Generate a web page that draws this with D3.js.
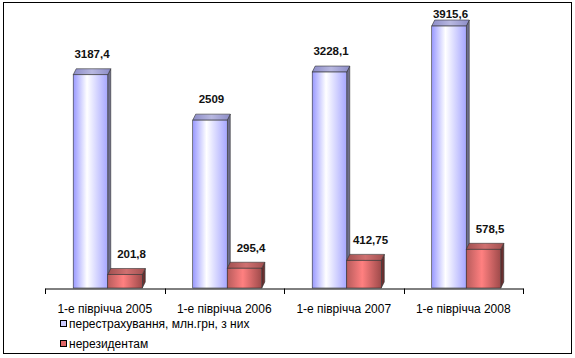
<!DOCTYPE html>
<html><head><meta charset="utf-8">
<script src="https://cdn.jsdelivr.net/npm/d3@7"></script>
<style>body{margin:0;background:#fff}svg{display:block}text{font-family:"Liberation Sans",Arial,sans-serif}</style>
</head><body>
<svg id="c" width="575" height="358"></svg>
<script>
const categories = ["1-е півріччa 2005","1-е півріччa 2006","1-е півріччa 2007","1-е півріччa 2008"];
const reinsurance = [3187.4, 2509, 3228.1, 3915.6];
const nonresidents = [201.8, 295.4, 412.75, 578.5];
const reinsLabels = ["3187,4","2509","3228,1","3915,6"];
const nonresLabels = ["201,8","295,4","412,75","578,5"];
const seriesNames = ["перестрахування, млн.грн, з них","нерезидентам"];

const svg = d3.select("#c");
const defs = svg.append("defs");
function grad(id, stops){
  const g = defs.append("linearGradient").attr("id",id).attr("x1","0").attr("x2","1").attr("y1","0").attr("y2","0");
  stops.forEach(s=>g.append("stop").attr("offset",s[0]).attr("stop-color",s[1]));
}
grad("gb",[[0,"#9999ff"],[0.4,"#ffffff"],[1,"#a6a6ff"]]);
grad("gr",[[0,"#b85c5c"],[0.45,"#ff8080"],[1,"#9e4a4a"]]);
grad("gbt",[[0,"#8c8cc8"],[0.5,"#b8b8e0"],[1,"#8c8cc8"]]);
grad("grt",[[0,"#a05050"],[0.5,"#d07070"],[1,"#a05050"]]);

svg.append("rect").attr("x",3.5).attr("y",2.5).attr("width",568).attr("height",351)
  .attr("fill","#fff").attr("stroke","#000").attr("stroke-width",1);

const x = d3.scaleBand().domain(categories).range([45,523]).paddingInner(0).paddingOuter(0);
const y = d3.scaleLinear().domain([0,4000]).range([288,20.4]);
const inner = d3.scaleBand().domain([0,1]).range([0, x.bandwidth()]).paddingOuter(0.73).paddingInner(0);
const dx = 3, dy = 6, shift = 3;

function bar(g, x0, w, v, front, top, side){
  const yt = y(v), yb = y(0);
  g.append("path").attr("d",`M${x0+w},${yb}L${x0+w+dx},${yb-dy}L${x0+w+dx},${yt-dy}L${x0+w},${yt}Z`)
    .attr("fill",side).attr("stroke","#333").attr("stroke-width",0.6);
  g.append("path").attr("d",`M${x0},${yt}L${x0+dx},${yt-dy}L${x0+w+dx},${yt-dy}L${x0+w},${yt}Z`)
    .attr("fill",top).attr("stroke","#333").attr("stroke-width",0.6);
  g.append("rect").attr("x",x0).attr("y",yt).attr("width",w).attr("height",yb-yt)
    .attr("fill",front).attr("stroke","#333").attr("stroke-width",0.6);
}

categories.forEach((c,i)=>{
  const g = svg.append("g");
  const bx = x(c)+inner(0)+shift, rx = x(c)+inner(1)+shift, w = inner.bandwidth();
  bar(g, bx, w, reinsurance[i], "url(#gb)", "url(#gbt)", "#6e6e8c");
  bar(g, rx, w, nonresidents[i], "url(#gr)", "url(#grt)", "#6b3030");
  g.append("text").attr("x",bx+w/2+dx/2).attr("y",Math.max(y(reinsurance[i])-dy-11, 18))
    .attr("text-anchor","middle").attr("font-size",11.5).attr("font-weight","bold").attr("fill","#111").text(reinsLabels[i]);
  g.append("text").attr("x",rx+w/2+dx/2+5).attr("y",y(nonresidents[i])-dy-10)
    .attr("text-anchor","middle").attr("font-size",11.5).attr("font-weight","bold").attr("fill","#111").text(nonresLabels[i]);
});

const axis = d3.axisBottom(x).tickSize(0).tickFormat(d=>d);
const ax = svg.append("g").attr("transform","translate(0,288.5)").call(axis);
ax.select(".domain").attr("stroke","#000");
ax.selectAll("text").attr("font-size",12).attr("fill","#000").attr("dy","1.75em");
const bounds = [45].concat(categories.map(c=>x(c)+x.bandwidth()));
svg.append("g").selectAll("line").data(bounds).join("line")
  .attr("x1",d=>Math.round(d)+0.5).attr("x2",d=>Math.round(d)+0.5).attr("y1",288.5).attr("y2",294).attr("stroke","#000");

const legend = svg.append("g");
const lfills = ["#ccccff","#e06666"];
seriesNames.forEach((n,i)=>{
  const cy = 324 + i*20;
  legend.append("rect").attr("x",60.5).attr("y",cy-3.5).attr("width",6).attr("height",6)
    .attr("fill",lfills[i]).attr("stroke","#000").attr("stroke-width",1);
  legend.append("text").attr("x",69).attr("y",cy+4).attr("font-size",12).attr("fill","#000").text(n);
});
</script>
</body></html>
